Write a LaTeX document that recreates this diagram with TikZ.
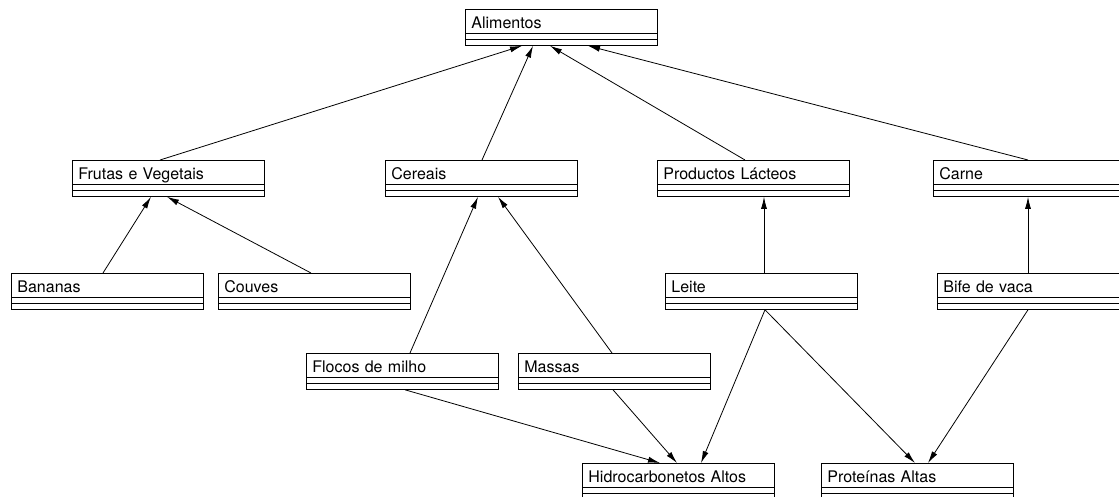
\documentclass[tikz,border=0pt]{standalone}
\usepackage{fontspec}
\setmainfont{TeX Gyre Heros}
\usetikzlibrary{arrows.meta}
\tikzset{
  cls/.style={draw=black, line width=0.8pt, anchor=north west,
    inner xsep=6pt, inner ysep=0pt, text width=180pt, align=left,
    text height=19pt, text depth=17pt,
    font=\fontsize{16}{18}\selectfont,
    path picture={
      \draw[line width=0.8pt] ([yshift=-24pt]path picture bounding box.north west) -- ([yshift=-24pt]path picture bounding box.north east);
      \draw[line width=0.8pt] ([yshift=-30pt]path picture bounding box.north west) -- ([yshift=-30pt]path picture bounding box.north east);
    }},
  arr/.style={draw=black, line width=0.8pt, -{Latex[length=12pt,width=6pt]}}
}
\begin{document}
\begin{tikzpicture}[x=1pt,y=-1pt]
\useasboundingbox (0,0) rectangle (1119,497);
\clip (0,0) rectangle (1119,497);
\fill[white] (0,0) rectangle (1119,497);

\node[cls] (ali) at (465,9) {Alimentos};
\node[cls] (fru) at (72,160) {Frutas e Vegetais};
\node[cls] (cer) at (385,160) {Cereais};
\node[cls] (pro) at (657,160) {Productos Lácteos};
\node[cls] (car) at (933,160) {Carne};
\node[cls] (ban) at (11,273) {Bananas};
\node[cls] (cou) at (218,273) {Couves};
\node[cls] (lei) at (665,273) {Leite};
\node[cls] (bif) at (937,273) {Bife de vaca};
\node[cls] (flo) at (306,353) {Flocos de milho};
\node[cls] (mas) at (518,353) {Massas};
\node[cls] (hid) at (582,463) {Hidrocarbonetos Altos};
\node[cls] (prt) at (821,463) {Proteínas Altas};

\draw[arr] ([xshift=88pt]fru.north west) -- ([xshift=57pt]ali.south west);
\draw[arr] ([xshift=97pt]cer.north west) -- ([xshift=68pt]ali.south west);
\draw[arr] ([xshift=88pt]pro.north west) -- ([xshift=85pt]ali.south west);
\draw[arr] ([xshift=95pt]car.north west) -- ([xshift=123pt]ali.south west);
\draw[arr] ([xshift=92pt]ban.north west) -- ([xshift=79pt]fru.south west);
\draw[arr] ([xshift=93pt]cou.north west) -- ([xshift=95pt]fru.south west);
\draw[arr] ([xshift=104pt]flo.north west) -- ([xshift=93pt]cer.south west);
\draw[arr] ([xshift=94pt]mas.north west) -- ([xshift=113pt]cer.south west);
\draw[arr] ([xshift=99pt]lei.north west) -- ([xshift=107pt]pro.south west);
\draw[arr] ([xshift=91pt]bif.north west) -- ([xshift=95pt]car.south west);
\draw[arr] ([xshift=99pt]flo.south west) -- ([xshift=78pt]hid.north west);
\draw[arr] ([xshift=95pt]mas.south west) -- ([xshift=95pt]hid.north west);
\draw[arr] ([xshift=100pt]lei.south west) -- ([xshift=119pt]hid.north west);
\draw[arr] ([xshift=100pt]lei.south west) -- ([xshift=94pt]prt.north west);
\draw[arr] ([xshift=91pt]bif.south west) -- ([xshift=107pt]prt.north west);
\end{tikzpicture}
\end{document}
